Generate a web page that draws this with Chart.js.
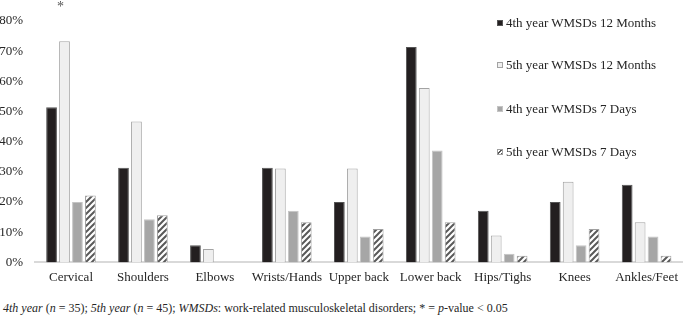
<!DOCTYPE html>
<html>
<head>
<meta charset="utf-8">
<script src="https://cdn.jsdelivr.net/npm/chart.js@4/dist/chart.umd.min.js"></script>
<style>
  html, body { margin: 0; padding: 0; background: #fff; }
  #wrap { position: relative; width: 685px; height: 318px; overflow: hidden; font-family: "Liberation Serif", "DejaVu Serif", serif; }
  #box { position: absolute; left: 0; top: 0; width: 685px; height: 292px; }
  #legend { position: absolute; left: 497px; top: 0; }
  .li { position: absolute; left: 0; white-space: nowrap; font-size: 13px; color: #262626; line-height: 16px; }
  .sw { display: inline-block; width: 6px; height: 6px; margin-right: 3px; vertical-align: 1px; box-sizing: border-box; }
  #note { position: absolute; left: 3px; top: 301px; font-size: 12px; color: #262626; white-space: nowrap; }
</style>
</head>
<body>
<div id="wrap">
  <div id="box"><canvas id="c"></canvas></div>
  <div id="legend"></div>
  <div id="note"><i>4th year</i> (<i>n</i> = 35); <i>5th year</i> (<i>n</i> = 45); <i>WMSDs</i>: work-related musculoskeletal disorders; * = <i>p</i>-value &lt; 0.05</div>
</div>
<script>
const categories = ["Cervical", "Shoulders", "Elbows", "Wrists/Hands", "Upper back", "Lower back", "Hips/Tighs", "Knees", "Ankles/Feet"];
const seriesNames = ["4th year WMSDs 12 Months", "5th year WMSDs 12 Months", "4th year WMSDs 7 Days", "5th year WMSDs 7 Days"];
const y4th12m = [51.4, 31.4, 5.7, 31.4, 20.0, 71.4, 17.1, 20.0, 25.7];
const y5th12m = [73.3, 46.7, 4.4, 31.1, 31.1, 57.8, 8.9, 26.7, 13.3];
const y4th7d  = [20.0, 14.3, 0, 17.1, 8.6, 37.1, 2.9, 5.7, 8.6];
const y5th7d  = [22.2, 15.6, 0, 13.3, 11.1, 13.3, 2.2, 11.1, 2.2];
const yTicks = [0, 10, 20, 30, 40, 50, 60, 70, 80];
const significant = [{ category: "Cervical", series: 1, mark: "*" }];

function hatch() {
  const p = document.createElement('canvas');
  p.width = 6; p.height = 6;
  const g = p.getContext('2d');
  g.fillStyle = '#ffffff'; g.fillRect(0, 0, 6, 6);
  g.strokeStyle = '#595959'; g.lineWidth = 2;
  g.beginPath();
  g.moveTo(-1, 7); g.lineTo(7, -1);
  g.moveTo(-4, 4); g.lineTo(4, -4);
  g.moveTo(2, 10); g.lineTo(10, 2);
  g.stroke();
  return g.createPattern(p, 'repeat');
}

const styles = [
  { bg: '#231f20', bd: '#555555' },
  { bg: '#efefef', bd: '#a3a3a3' },
  { bg: '#a6a6a6', bd: '#c4c4c4' },
  { bg: hatch(), bd: '#a0a0a0' }
];
const values = [y4th12m, y5th12m, y4th7d, y5th7d];

const starPlugin = {
  id: 'star',
  afterDatasetsDraw(chart) {
    const ctx = chart.ctx;
    significant.forEach(s => {
      const idx = categories.indexOf(s.category);
      const el = chart.getDatasetMeta(s.series).data[idx];
      ctx.save();
      ctx.fillStyle = '#555';
      ctx.font = '14px "Liberation Serif"';
      ctx.textAlign = 'center';
      ctx.textBaseline = 'middle';
      ctx.fillText(s.mark, el.x - 4, 7);
      ctx.restore();
    });
  }
};

const chart = new Chart(document.getElementById('c'), {
  type: 'bar',
  data: {
    labels: categories,
    datasets: seriesNames.map((n, i) => ({
      label: n,
      data: values[i],
      backgroundColor: styles[i].bg,
      borderColor: styles[i].bd,
      borderWidth: 1,
      categoryPercentage: 0.72,
      barPercentage: 0.83
    }))
  },
  options: {
    responsive: true,
    maintainAspectRatio: false,
    animation: false,
    layout: { padding: { top: 21, right: 0, left: 0, bottom: 0 } },
    plugins: { legend: { display: false }, tooltip: { enabled: false } },
    scales: {
      x: {
        grid: { display: false, drawTicks: false },
        border: { display: true, color: '#d9d9d9', width: 2 },
        ticks: { color: '#262626', font: { family: '"Liberation Serif"', size: 13 }, padding: 7, maxRotation: 0, autoSkip: false }
      },
      y: {
        min: 0, max: 80,
        afterFit(s) { s.width = 35; },
        afterBuildTicks(s) { s.ticks = yTicks.map(v => ({ value: v })); },
        grid: { display: false, drawTicks: false },
        border: { display: false },
        ticks: { color: '#262626', font: { family: '"Liberation Serif"', size: 13 }, padding: 12, callback: v => v + '%' }
      }
    }
  },
  plugins: [starPlugin]
});

const tops = [15, 57, 101, 144];
const lg = document.getElementById('legend');
seriesNames.forEach((n, i) => {
  const d = document.createElement('div');
  d.className = 'li';
  d.style.top = tops[i] + 'px';
  const sw = document.createElement('span');
  sw.className = 'sw';
  if (i === 3) {
    sw.style.background = 'repeating-linear-gradient(135deg, #fff 0 1.5px, #595959 1.5px 3px)';
    sw.style.border = '1px solid #a0a0a0';
  } else {
    sw.style.background = i === 0 ? '#231f20' : (i === 1 ? '#efefef' : '#a6a6a6');
    sw.style.border = '1px solid ' + styles[i].bd;
  }
  d.appendChild(sw);
  d.appendChild(document.createTextNode(n));
  lg.appendChild(d);
});
</script>
</body>
</html>
